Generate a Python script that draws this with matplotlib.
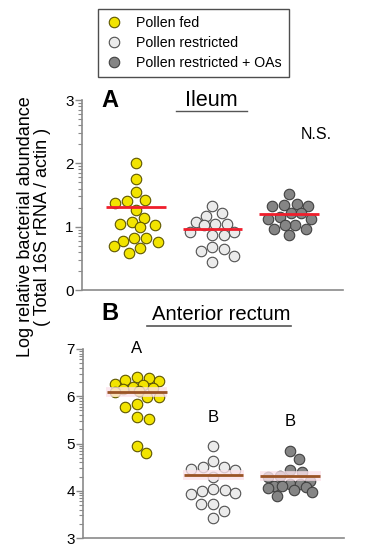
import numpy as np
import matplotlib.pyplot as plt
from matplotlib.lines import Line2D

plt.rcParams['font.family'] = ['Liberation Sans', 'DejaVu Sans']

# ----------------------------
# Data (log10 values)
# ----------------------------
GROUPS = ["Pollen fed", "Pollen restricted", "Pollen restricted + OAs"]

ileum_fed = [2.00, 1.76, 1.54, 1.42, 1.41, 1.38, 1.26, 1.13, 1.08, 1.05,
             1.03, 0.99, 0.82, 0.82, 0.78, 0.76, 0.69, 0.67, 0.58]
ileum_restricted = [1.33, 1.21, 1.17, 1.08, 1.05, 1.04, 1.03, 0.91, 0.91,
                    0.87, 0.87, 0.68, 0.64, 0.61, 0.53, 0.44]
ileum_oas = [1.51, 1.36, 1.34, 1.33, 1.32, 1.21, 1.21, 1.16, 1.12, 1.12,
             1.03, 1.03, 0.97, 0.96, 0.87]

rectum_fed = [6.40, 6.38, 6.35, 6.33, 6.25, 6.23, 6.19, 6.17, 6.15, 6.12,
              6.08, 5.99, 5.98, 5.84, 5.78, 5.57, 5.52, 4.95, 4.80]
rectum_restricted = [4.94, 4.64, 4.51, 4.51, 4.46, 4.43, 4.30, 4.04, 4.02,
                     3.99, 3.96, 3.94, 3.72, 3.72, 3.58, 3.42]
rectum_oas = [4.85, 4.68, 4.44, 4.39, 4.32, 4.30, 4.20, 4.14, 4.14, 4.10,
              4.09, 4.07, 4.05, 4.02, 3.98, 3.88]

rectum_letters = ["A", "B", "B"]

# ----------------------------
# Style
# ----------------------------
FILLS = ["#f2e400", "#ebebeb", "#858585"]
EDGES = ["#5e5600", "#505050", "#404040"]
AXIS_GRAY = "#8a8a8a"
DOT_DIAM_PX = 10.5
SWARM_GAP_PX = 12.0
SWARM_HALF_WIDTH_PX = 22.0
DPI = 100


def swarm_offsets(ax, values, diam, lim):
    """Beeswarm capped at +/- lim px; dots may overlap when it gets crowded."""
    ys = ax.transData.transform(
        np.column_stack([np.ones(len(values)), values]))[:, 1]
    px_per_x = (ax.transData.transform((2, 0))[0]
                - ax.transData.transform((1, 0))[0])
    order = np.argsort(-ys)
    placed = []
    xs = np.zeros(len(values))
    for i in order:
        y = ys[i]
        cands = [0.0] + list(np.linspace(-lim, lim, 23))
        for xj, yj in placed:
            dy = y - yj
            if abs(dy) < diam:
                dx = np.sqrt(diam ** 2 - dy ** 2)
                cands += [xj + dx, xj - dx]
        cands = [c for c in cands if abs(c) <= lim + 1e-6]
        cands.sort(key=abs)

        def min_dist(c):
            if not placed:
                return np.inf
            return min(np.hypot(c - xj, y - yj) for xj, yj in placed)

        free = [c for c in cands if min_dist(c) >= diam - 1e-6]
        xs[i] = free[0] if free else max(cands, key=min_dist)
        placed.append((xs[i], y))
    return xs / px_per_x


def style_axis(ax, lo, hi):
    ax.set_xlim(0.3, 3.7)
    ax.set_ylim(lo, hi)
    for side in ("top", "right"):
        ax.spines[side].set_visible(False)
    for side in ("left", "bottom"):
        ax.spines[side].set_color(AXIS_GRAY)
        ax.spines[side].set_linewidth(1.2)
    ax.set_xticks([])
    ax.set_yticks(range(lo, hi + 1))
    minors = [n + np.log10(k) for n in range(lo, hi) for k in range(2, 10)]
    ax.set_yticks(minors, minor=True)
    ax.tick_params(axis="y", which="major", direction="out", length=5,
                   width=1, color=AXIS_GRAY, labelsize=11, pad=1)
    ax.tick_params(axis="y", which="minor", direction="out", length=3,
                   width=0.8, color=AXIS_GRAY)


def draw_panel(ax, groups, line_color, halo=None):
    for i, vals in enumerate(groups):
        vals = np.asarray(vals)
        x = i + 1 + swarm_offsets(ax, vals, SWARM_GAP_PX, SWARM_HALF_WIDTH_PX)
        ax.scatter(x, vals, s=(DOT_DIAM_PX * 72 / DPI) ** 2, c=FILLS[i],
                   edgecolors=EDGES[i], linewidths=0.8, zorder=3)
        mean = np.log10(np.mean(10 ** vals))
        if halo:
            ax.plot([i + 0.6, i + 1.4], [mean, mean], color=halo, lw=7,
                    solid_capstyle="butt", zorder=3.5, alpha=0.8)
        ax.plot([i + 0.61, i + 1.39], [mean, mean], color=line_color, lw=2,
                solid_capstyle="butt", zorder=4)


fig = plt.figure(figsize=(3.67, 5.5), dpi=DPI)
W, H = 367, 550

# Panel A: ileum
axA = fig.add_axes([82 / W, 1 - 290 / H, 261 / W, 190 / H])
style_axis(axA, 0, 3)
draw_panel(axA, [ileum_fed, ileum_restricted, ileum_oas], "#f01e2c")
axA.text(3.35, 2.46, "N.S.", ha="center", va="center", fontsize=11.5)

# Panel B: anterior rectum
axB = fig.add_axes([83 / W, 1 - 538 / H, 261 / W, 189 / H])
style_axis(axB, 3, 7)
draw_panel(axB, [rectum_fed, rectum_restricted, rectum_oas], "#9a5426",
           halo="#fbe1ea")
for i, letter in enumerate(rectum_letters):
    y = max([rectum_fed, rectum_restricted, rectum_oas][i])
    axB.text(i + 1, y + 0.45, letter, ha="center", va="bottom", fontsize=12)

# Panel letters and titles
fig.text(101 / W, 1 - 100 / H, "A", fontsize=17, fontweight="bold",
         va="center", ha="left")
fig.text(101 / W, 1 - 314 / H, "B", fontsize=17, fontweight="bold",
         va="center", ha="left")
fig.text(211 / W, 1 - 101 / H, "Ileum", fontsize=15.5, ha="center",
         va="center")
fig.add_artist(Line2D([176 / W, 247 / W], [1 - 110.7 / H, 1 - 110.7 / H],
                      color="#555555", lw=1))
fig.text(221 / W, 1 - 315 / H, "Anterior rectum", fontsize=14.6,
         ha="center", va="center")
fig.add_artist(Line2D([147 / W, 291 / W], [1 - 326 / H, 1 - 326 / H],
                      color="#555555", lw=1.2))

# Y label
fig.text(34 / W, 1 - 227 / H,
         "Log relative bacterial abundance\n( Total 16S rRNA / actin )",
         rotation=90, ha="center", va="center", multialignment="center",
         fontsize=13, linespacing=1.0)

# Legend
handles = [Line2D([], [], ls="", marker="o", markersize=DOT_DIAM_PX * 72 / DPI,
                  markerfacecolor=FILLS[i], markeredgecolor=EDGES[i],
                  markeredgewidth=0.8) for i in range(3)]
leg = fig.legend(handles, GROUPS, loc="upper left",
                 bbox_to_anchor=(98 / W, 1 - 9 / H), fontsize=10.2,
                 frameon=True, fancybox=False, edgecolor="#222222",
                 handlelength=1.2, handletextpad=1.0, labelspacing=0.42,
                 borderpad=0.5, borderaxespad=0)
leg.get_frame().set_linewidth(1)

fig.savefig("out.png", dpi=DPI)
